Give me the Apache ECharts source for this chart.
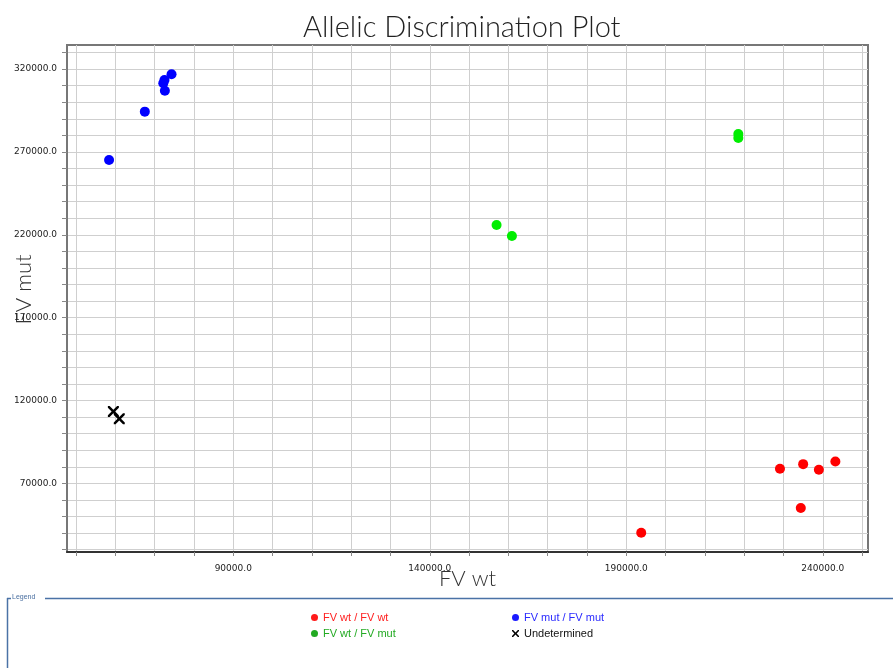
<!DOCTYPE html>
<html>
<head>
<meta charset="utf-8">
<script src="https://cdn.jsdelivr.net/npm/echarts@6/dist/echarts.min.js"></script>
<style>
html,body{margin:0;padding:0;background:#fff;}
#chart{width:893px;height:668px;}
</style>
</head>
<body>
<div id="chart"></div>
<script>
// ---- data ----
const seriesNames = ['FV wt / FV wt', 'FV mut / FV mut', 'FV wt / FV mut', 'Undetermined'];
const wtwt = [[229100,78800],[235000,81600],[239000,78200],[243200,83200],[234400,55100],[193800,40200]];
const mutmut = [[58400,265100],[67500,294300],[72600,306900],[72200,311400],[72500,313400],[74300,316800]];
const wtmut = [[157000,225900],[160900,219300],[218500,280800],[218500,278400]];
const undetermined = [[59500,113400],[61000,109000]];
const xTickLabels = [90000, 140000, 190000, 240000];
const yTickLabels = [70000, 120000, 170000, 220000, 270000, 320000];
const xGridValues = [50000,60000,70000,80000,90000,100000,110000,120000,130000,140000,150000,160000,170000,180000,190000,200000,210000,220000,230000,240000,250000];
const yGridValues = [30000,40000,50000,60000,70000,80000,90000,100000,110000,120000,130000,140000,150000,160000,170000,180000,190000,200000,210000,220000,230000,240000,250000,260000,270000,280000,290000,300000,310000,320000,330000];

const xPath = 'path://M0,0L1.6,0L5,3.4L8.4,0L10,0L10,1.6L6.6,5L10,8.4L10,10L8.4,10L5,6.6L1.6,10L0,10L0,8.4L3.4,5L0,1.6Z';
const titleFont = 'Lato';
const tickFont = 'DejaVu Sans';

const chart = echarts.init(document.getElementById('chart'), null, {renderer: 'canvas'});

chart.setOption({
  animation: false,
  backgroundColor: '#ffffff',
  title: {
    text: 'Allelic Discrimination Plot',
    left: 298,
    top: 8,
    textStyle: {fontFamily: titleFont, fontSize: 29, fontWeight: 300, color: '#222'}
  },
  grid: {
    left: 67, right: 25, top: 45, bottom: 116,
    containLabel: false, outerBoundsMode: 'none',
    show: true, borderColor: '#777', borderWidth: 2, backgroundColor: '#fff'
  },
  xAxis: {
    type: 'value',
    min: 47700, max: 251500,
    name: 'FV wt', nameLocation: 'middle', nameGap: 16, nameMoveOverlap: false,
    nameTextStyle: {fontFamily: titleFont, fontSize: 22, fontWeight: 300, color: '#333'},
    axisLine: {show: true, onZero: false, lineStyle: {color: '#333', width: 2}},
    axisTick: {show: true, length: 4, customValues: xGridValues, lineStyle: {color: '#888'}},
    splitLine: {show: true, lineStyle: {color: '#cfcfcf', width: 1}},
    axisLabel: {show: true, margin: 12, fontFamily: tickFont, fontSize: 9, color: '#222',
      customValues: xTickLabels, formatter: function (v) { return Number(v).toFixed(1); }}
  },
  yAxis: {
    type: 'value',
    min: 28600, max: 334500,
    name: 'FV mut', nameLocation: 'middle', nameGap: 32, nameRotate: 90, nameMoveOverlap: false,
    nameTextStyle: {fontFamily: titleFont, fontSize: 22, fontWeight: 300, color: '#333', padding: [0, 0, 0, 18]},
    axisLine: {show: true, onZero: false, lineStyle: {color: '#777', width: 2}},
    axisTick: {show: true, length: 5, customValues: yGridValues, lineStyle: {color: '#888'}},
    splitLine: {show: true, lineStyle: {color: '#cfcfcf', width: 1}},
    axisLabel: {show: true, margin: 10, fontFamily: tickFont, fontSize: 9, color: '#222',
      customValues: yTickLabels, formatter: function (v) { return Number(v).toFixed(1); }}
  },
  legend: [
    {
      orient: 'vertical', left: 311, top: 612, padding: 0, itemGap: 5, itemWidth: 7, itemHeight: 7,
      textStyle: {fontFamily: 'Liberation Sans', fontSize: 11},
      data: [
        {name: seriesNames[0], icon: 'circle', textStyle: {color: '#ff2020'}, itemStyle: {color: '#ff1a1a'}},
        {name: seriesNames[2], icon: 'circle', textStyle: {color: '#22aa22'}, itemStyle: {color: '#22aa22'}}
      ]
    },
    {
      orient: 'vertical', left: 512, top: 612, padding: 0, itemGap: 5, itemWidth: 7, itemHeight: 7,
      textStyle: {fontFamily: 'Liberation Sans', fontSize: 11},
      data: [
        {name: seriesNames[1], icon: 'circle', textStyle: {color: '#2a2aff'}, itemStyle: {color: '#1a1aff'}},
        {name: seriesNames[3], icon: xPath, textStyle: {color: '#111'}, itemStyle: {color: '#000'}}
      ]
    }
  ],
  graphic: [
    {type: 'text', left: 12, top: 594, style: {text: 'Legend', fontSize: 7, fill: '#4a6fa0', fontFamily: 'Liberation Sans'}},
    {type: 'line', shape: {x1: 45, y1: 598.5, x2: 893, y2: 598.5}, style: {stroke: '#4a72a6', lineWidth: 1.5}},
    {type: 'line', shape: {x1: 7, y1: 598.5, x2: 11, y2: 598.5}, style: {stroke: '#4a72a6', lineWidth: 1.5}},
    {type: 'line', shape: {x1: 7.5, y1: 598, x2: 7.5, y2: 668}, style: {stroke: '#4a72a6', lineWidth: 1.5}}
  ],
  series: [
    {name: seriesNames[0], type: 'scatter', data: wtwt, symbol: 'circle', symbolSize: 10, itemStyle: {color: '#ff0000', opacity: 1}},
    {name: seriesNames[1], type: 'scatter', data: mutmut, symbol: 'circle', symbolSize: 10, itemStyle: {color: '#0000ff', opacity: 1}},
    {name: seriesNames[2], type: 'scatter', data: wtmut, symbol: 'circle', symbolSize: 10, itemStyle: {color: '#00ee00', opacity: 1}},
    {name: seriesNames[3], type: 'scatter', data: undetermined, symbol: xPath, symbolSize: 11, itemStyle: {color: '#000', opacity: 1}}
  ]
});
</script>
</body>
</html>
